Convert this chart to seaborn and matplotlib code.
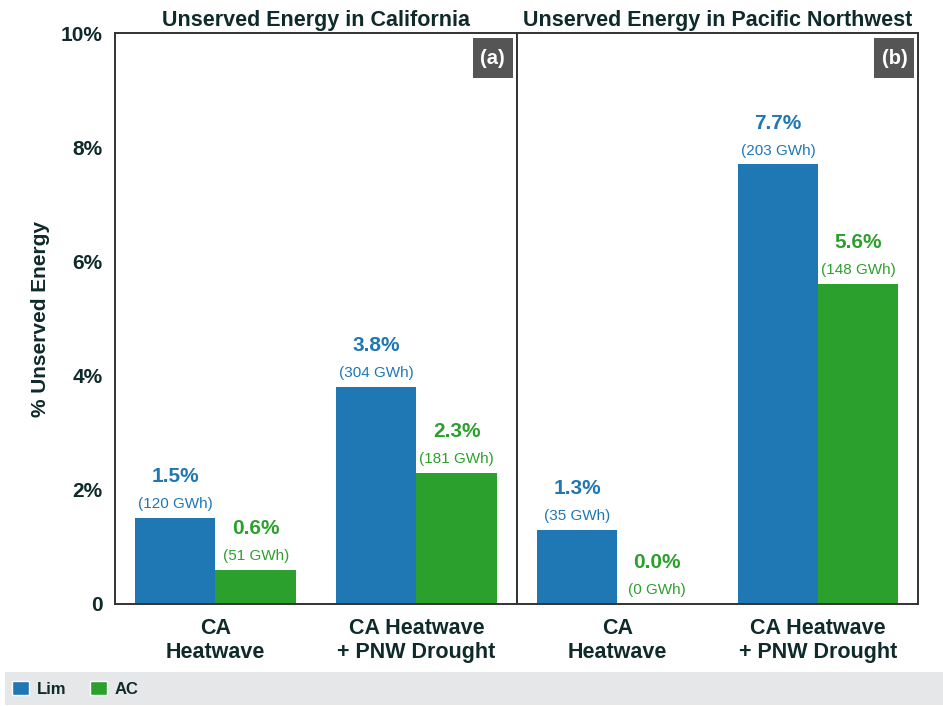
#%% Unserved energy bar chart - CA and PNW panels

import matplotlib.pyplot as plt
import matplotlib.patches as mpatches
import pandas as pd
import seaborn as sns

#%% Data

scenarios = ['CA\nHeatwave', 'CA Heatwave\n+ PNW Drought']
cases = ['Lim', 'AC']
ca_pct = [1.5, 0.6, 3.8, 2.3]     # Lim, AC, Lim, AC
ca_gwh = [120, 51, 304, 181]
pnw_pct = [1.3, 0.0, 7.7, 5.6]
pnw_gwh = [35, 0, 203, 148]
panel_titles = ['Unserved Energy in California', 'Unserved Energy in Pacific Northwest']
panel_tags = ['(a)', '(b)']

colors = {'Lim': '#1f77b4', 'AC': '#2ca02c'}
dark = '#0f2a2a'

#%% Style

sns.set_style('white')
plt.rcParams['font.family'] = ['Liberation Sans', 'DejaVu Sans']

fig, axes = plt.subplots(1, 2, figsize=(9.43, 7.07), dpi=100, sharey=True)
fig.subplots_adjust(left=0.122, right=0.974, top=0.953, bottom=0.146, wspace=0)

panels = [(ca_pct, ca_gwh), (pnw_pct, pnw_gwh)]

for i, ax in enumerate(axes):
    pct, gwh = panels[i]
    df = pd.DataFrame({
        'Scenario': [s for s in scenarios for _ in cases],
        'Case': cases * len(scenarios),
        'pct': pct,
        'gwh': gwh,
    })
    sns.barplot(data=df, x='Scenario', y='pct', hue='Case', palette=colors,
                order=scenarios, hue_order=cases, width=0.8, ax=ax,
                saturation=1, legend=False, errorbar=None, linewidth=0)

    # value labels above bars
    for c_idx, cont in enumerate(ax.containers):
        case = cases[c_idx]
        sub = df[df['Case'] == case].reset_index(drop=True)
        for j, bar in enumerate(cont):
            xc = bar.get_x() + bar.get_width() / 2
            h = bar.get_height()
            ax.annotate('(%d GWh)' % sub.loc[j, 'gwh'], (xc, h), xytext=(0, 5),
                        textcoords='offset points', ha='center', va='bottom',
                        fontsize=11, color=colors[case])
            ax.annotate('%.1f%%' % sub.loc[j, 'pct'], (xc, h), xytext=(0, 23),
                        textcoords='offset points', ha='center', va='bottom',
                        fontsize=15, fontweight='bold', color=colors[case])

    ax.set_xlim(-0.5, 1.5)
    ax.set_ylim(0, 10)
    ax.set_xlabel('')
    ax.set_title(panel_titles[i], fontsize=15.5, fontweight='bold', color=dark, pad=5)
    ax.tick_params(axis='x', length=0, pad=10, labelsize=15.5, colors=dark)
    for t in ax.get_xticklabels():
        t.set_fontweight('bold')
    for sp in ax.spines.values():
        sp.set_visible(True)
        sp.set_color('#333333')
        sp.set_linewidth(1.4)

    # panel tag in a gray square, top right
    tag_box = mpatches.Rectangle((0.8905, 0.921), 0.0995, 0.070, transform=ax.transAxes,
                                 facecolor='#555555', edgecolor='none', zorder=5)
    ax.add_patch(tag_box)
    ax.text(0.940, 0.955, panel_tags[i], transform=ax.transAxes, ha='center', va='center',
            fontsize=14.5, fontweight='bold', color='white', zorder=6)

ax0 = axes[0]
ax0.set_yticks([0, 2, 4, 6, 8, 10])
ax0.set_yticklabels(['0', '2%', '4%', '6%', '8%', '10%'], fontweight='bold')
ax0.tick_params(axis='y', length=0, pad=9, labelsize=15, colors=dark)
ax0.set_ylabel('% Unserved Energy', fontsize=15, fontweight='bold', color=dark, labelpad=8)
axes[1].set_ylabel('')
axes[1].tick_params(axis='y', length=0)

#%% Legend band at the bottom

band = mpatches.Rectangle((0.005, 0.003), 0.995, 0.046, transform=fig.transFigure,
                          facecolor='#e6e7e9', edgecolor='none', zorder=0)
fig.patches.append(band)
handles = [mpatches.Patch(facecolor=colors[c], label=c) for c in cases]
leg = fig.legend(handles=handles, loc='center left', bbox_to_anchor=(-0.003, 0.026),
                 ncol=2, frameon=False, fontsize=12, handlelength=1.0,
                 handleheight=1.0, handletextpad=0.5, columnspacing=1.4)
for t in leg.get_texts():
    t.set_fontweight('bold')
    t.set_color(dark)

fig.savefig('out.png', dpi=100)
